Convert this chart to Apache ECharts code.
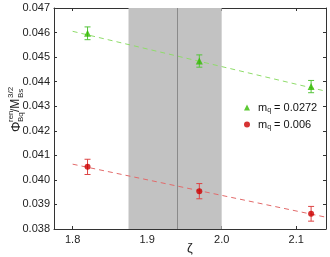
<!DOCTYPE html>
<html><head><meta charset="utf-8">
<script src="https://cdn.jsdelivr.net/npm/echarts@6/dist/echarts.min.js"></script>
<style>html,body{margin:0;padding:0;background:#fff}#c{width:330px;height:257px}</style>
</head><body><div id="c"></div>
<script>
const zeta = [1.82, 1.97, 2.12];
const heavyVals = [0.04597, 0.04484, 0.04380];
const heavyErr = [0.00026, 0.00025, 0.00025];
const lightVals = [0.04053, 0.03954, 0.03862];
const lightErr = [0.00031, 0.00031, 0.00030];
const heavyFit = [[1.8, 0.04605], [2.14, 0.04361]];
const lightFit = [[1.8, 0.04064], [2.14, 0.03848]];
const band = [1.875, 2.0];
const bandCenter = 1.9375;
const xTicks = [1.8, 1.9, 2.0, 2.1];
const heavyName = 'mq = 0.0272';
const lightName = 'mq = 0.006';

const FONT = 'Liberation Sans';
function errSeries(vals, errs, color) {
  return {
    type: 'custom', silent: true, z: 3,
    data: zeta.map((z, i) => [z, vals[i] - errs[i], vals[i] + errs[i]]),
    renderItem: function (params, api) {
      const lo = api.coord([api.value(0), api.value(1)]);
      const hi = api.coord([api.value(0), api.value(2)]);
      const w = 3;
      const st = {stroke: color, lineWidth: 1};
      return {type: 'group', children: [
        {type: 'line', shape: {x1: lo[0], y1: lo[1], x2: hi[0], y2: hi[1]}, style: st},
        {type: 'line', shape: {x1: lo[0] - w, y1: lo[1], x2: lo[0] + w, y2: lo[1]}, style: st},
        {type: 'line', shape: {x1: hi[0] - w, y1: hi[1], x2: hi[0] + w, y2: hi[1]}, style: st}
      ]};
    }
  };
}
const chart = echarts.init(document.getElementById('c'), null, {renderer: 'canvas'});
const axisLine = {show: true, lineStyle: {color: '#333', width: 1}};
const option = {
  animation: false,
  textStyle: {fontFamily: FONT},
  grid: {left: 54, top: 8, right: 4, bottom: 28},
  xAxis: [{
    type: 'value', min: 1.775, max: 2.14,
    axisLine: axisLine, splitLine: {show: false},
    axisTick: {show: true, inside: true, length: 3, lineStyle: {color: '#333'}, customValues: xTicks},
    axisLabel: {fontSize: 11, color: '#222', margin: 5, fontFamily: FONT, customValues: xTicks,
      formatter: v => v.toFixed(1)}
  }, {
    type: 'value', min: 1.775, max: 2.14, position: 'top',
    axisLine: axisLine, splitLine: {show: false},
    axisTick: {show: true, inside: true, length: 3, lineStyle: {color: '#333'}, customValues: xTicks},
    axisLabel: {show: false}
  }],
  yAxis: [{
    type: 'value', min: 0.038, max: 0.047, interval: 0.001,
    axisLine: axisLine, splitLine: {show: false},
    axisTick: {show: true, inside: true, length: 3, lineStyle: {color: '#333'}},
    axisLabel: {fontSize: 11, color: '#222', margin: 4, fontFamily: FONT, formatter: v => v.toFixed(3)}
  }, {
    type: 'value', min: 0.038, max: 0.047, interval: 0.001, position: 'right',
    axisLine: axisLine, splitLine: {show: false},
    axisTick: {show: true, inside: true, length: 3, lineStyle: {color: '#333'}},
    axisLabel: {show: false}
  }],
  legend: {
    orient: 'vertical', left: 239, top: 97, itemWidth: 6, itemHeight: 6, itemGap: 5,
    data: [{name: heavyName, icon: 'triangle'}, {name: lightName, icon: 'circle'}],
    formatter: function (n) { return '{m|m}{q|q}{t|' + n.slice(2) + '}'; },
    textStyle: {fontFamily: FONT, color: '#111', padding: [0, 0, 0, 3], rich: {
      m: {fontSize: 11, fontFamily: FONT, color: '#111'},
      q: {fontSize: 7, fontFamily: FONT, color: '#111', verticalAlign: 'bottom', padding: [6, 0, 0, 0]},
      t: {fontSize: 11, fontFamily: FONT, color: '#111'}
    }}
  },
  series: [
    {type: 'line', data: [], z: 0, silent: true,
      markArea: {silent: true, itemStyle: {color: '#c2c2c2'}, data: [[{xAxis: band[0]}, {xAxis: band[1]}]]},
      markLine: {silent: true, symbol: 'none', label: {show: false}, lineStyle: {color: '#8a8a8a', width: 1, type: 'solid'},
        data: [{xAxis: bandCenter}]}},
    {type: 'line', data: heavyFit, symbol: 'none', z: 2, silent: true,
      lineStyle: {color: '#8fdc6a', width: 1, type: [5, 4]}},
    {type: 'line', data: lightFit, symbol: 'none', z: 2, silent: true,
      lineStyle: {color: '#e26a6a', width: 1, type: [5, 4]}},
    errSeries(heavyVals, heavyErr, '#55c43a'),
    errSeries(lightVals, lightErr, '#dd4444'),
    {name: heavyName, type: 'scatter', symbol: 'triangle', symbolSize: 7, z: 4,
      itemStyle: {color: '#33bb00'}, data: zeta.map((z, i) => [z, heavyVals[i]])},
    {name: lightName, type: 'scatter', symbol: 'circle', symbolSize: 6, z: 4,
      itemStyle: {color: '#cc0000'}, data: zeta.map((z, i) => [z, lightVals[i]])}
  ],
  graphic: [
    {type: 'text', left: 187, top: 242, style: {text: 'ζ', font: '13px ' + FONT, fill: '#222'}},
    {type: 'group', x: 16, y: 132, rotation: Math.PI / 2, children: [
      {type: 'text', x: 0, y: 0, style: {text: 'Φ', font: '13px ' + FONT, fill: '#222', textVerticalAlign: 'middle'}},
      {type: 'text', x: 10, y: -5, style: {text: 'ren', font: '8px ' + FONT, fill: '#222', textVerticalAlign: 'middle'}},
      {type: 'text', x: 10, y: 5, style: {text: 'Bq', font: '8px ' + FONT, fill: '#222', textVerticalAlign: 'middle'}},
      {type: 'text', x: 20, y: 0, style: {text: '/M', font: '12px ' + FONT, fill: '#222', textVerticalAlign: 'middle'}},
      {type: 'text', x: 34, y: -5, style: {text: '3/2', font: '8px ' + FONT, fill: '#222', textVerticalAlign: 'middle'}},
      {type: 'text', x: 34, y: 5, style: {text: 'Bs', font: '8px ' + FONT, fill: '#222', textVerticalAlign: 'middle'}}
    ]}
  ]
};
chart.setOption(option);
</script></body></html>
